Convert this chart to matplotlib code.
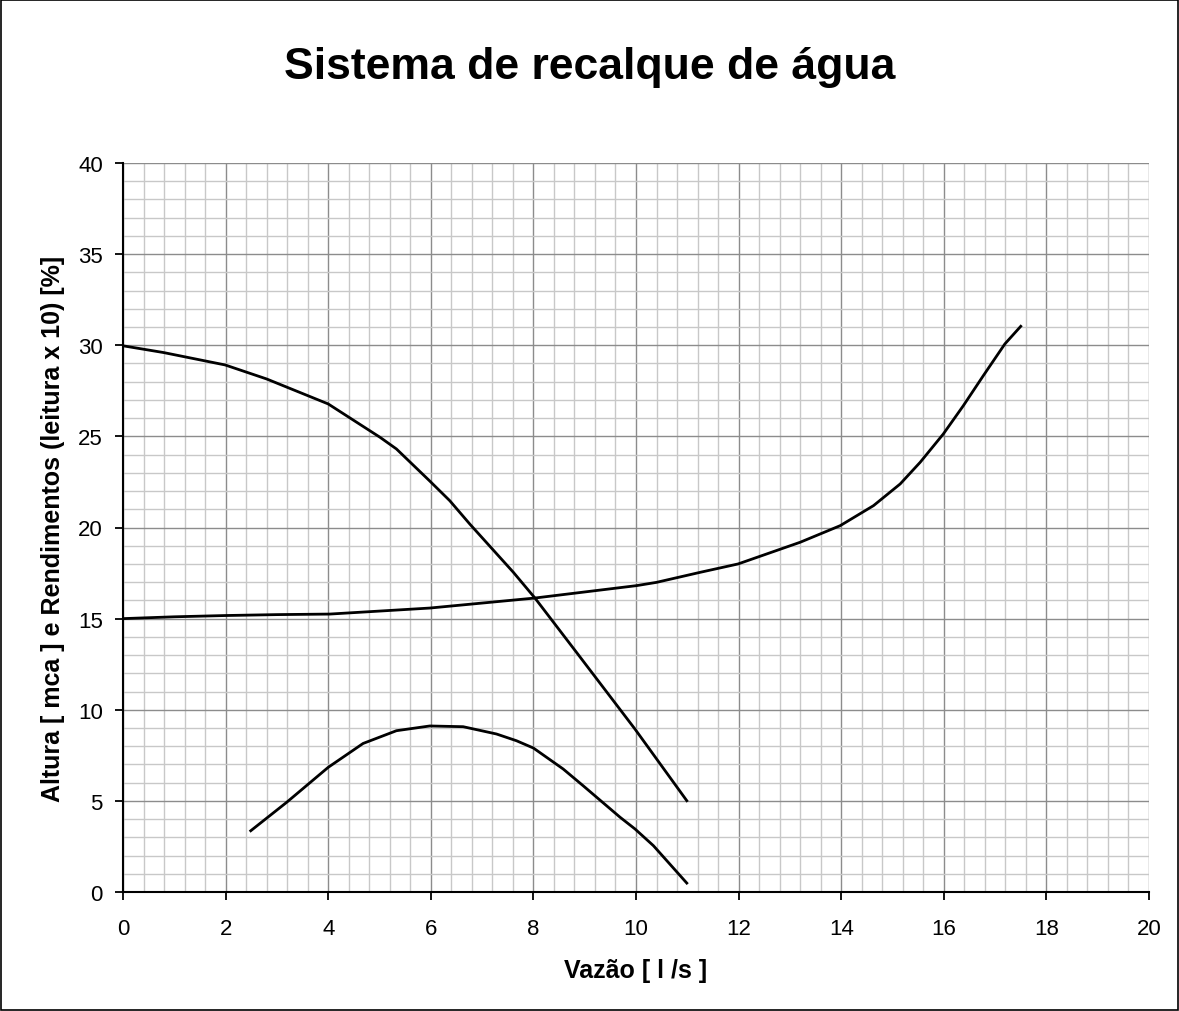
import matplotlib
matplotlib.use('Agg')
import matplotlib.pyplot as plt
from matplotlib.patches import Rectangle
from matplotlib.ticker import MultipleLocator

plt.rcParams['font.family'] = ['Liberation Sans', 'DejaVu Sans']

# curva da bomba (altura manométrica)
bomba_q = [0, 0.79, 1.99, 2.8, 4.0, 5.01, 5.33, 5.98, 6.37, 6.76, 7.61, 8.03, 8.84, 9.98, 10.99]
bomba_h = [29.97, 29.6, 28.92, 28.15, 26.78, 24.95, 24.31, 22.55, 21.47, 20.19, 17.54, 16.13, 13.15, 8.94, 5.01]

# curva do sistema
sist_q = [0, 1, 2, 3, 4.03, 5.98, 8.03, 10.01, 10.4, 11.25, 11.99, 13.2, 13.98, 14.63,
          15.15, 15.54, 15.99, 16.38, 16.77, 17.19, 17.5]
sist_h = [15.0, 15.1, 15.17, 15.22, 15.25, 15.58, 16.13, 16.81, 16.99, 17.54, 18.0, 19.19, 20.1, 21.2,
          22.39, 23.58, 25.13, 26.68, 28.33, 30.07, 31.04]

# rendimento (leitura x 10)
rend_q = [2.49, 3.19, 4.0, 4.68, 5.33, 5.98, 6.63, 7.28, 7.67, 8.0, 8.58, 8.97, 9.69, 9.98, 10.34, 10.99]
rend_v = [3.36, 4.92, 6.84, 8.15, 8.85, 9.11, 9.07, 8.67, 8.30, 7.9, 6.75, 5.83, 4.1, 3.46, 2.54, 0.49]

fig = plt.figure(figsize=(11.79, 10.12), dpi=100)
ax = fig.add_axes([123 / 1179, 1 - 893 / 1012, 1026 / 1179, 729 / 1012])

for q, v in [(bomba_q, bomba_h), (sist_q, sist_h), (rend_q, rend_v)]:
    ax.plot(q, v, color='black', linewidth=2, zorder=3, solid_joinstyle='round')

ax.set_xlim(0, 20)
ax.set_ylim(0, 40)
ax.xaxis.set_major_locator(MultipleLocator(2))
ax.xaxis.set_minor_locator(MultipleLocator(0.4))
ax.yaxis.set_major_locator(MultipleLocator(5))
ax.yaxis.set_minor_locator(MultipleLocator(1))
ax.grid(which='minor', color='#c8c8c8', linewidth=1)
ax.grid(which='major', color='#8c8c8c', linewidth=1)
ax.set_axisbelow(True)
ax.tick_params(which='minor', length=0)
ax.tick_params(which='major', direction='out', length=5.5, width=1.3, labelsize=16)
ax.tick_params(axis='x', pad=13)
ax.tick_params(axis='y', pad=9)
for s in ['top', 'right']:
    ax.spines[s].set_visible(False)
for s in ['left', 'bottom']:
    ax.spines[s].set_linewidth(1.5)

ax.set_xlabel('Vazão [ l /s ]', fontsize=18, fontweight='bold', labelpad=14)
ax.set_ylabel('Altura [ mca ] e Rendimentos (leitura x 10) [%]', fontsize=18,
              fontweight='bold', labelpad=9)
fig.text(0.5, 1 - 68 / 1012, 'Sistema de recalque de água', ha='center', va='center',
         fontsize=32, fontweight='bold')

fig.patches.append(Rectangle((0.0008, 0.001), 0.998, 0.998, transform=fig.transFigure,
                             fill=False, edgecolor='black', linewidth=1.2))

fig.savefig('out.png', dpi=100)
